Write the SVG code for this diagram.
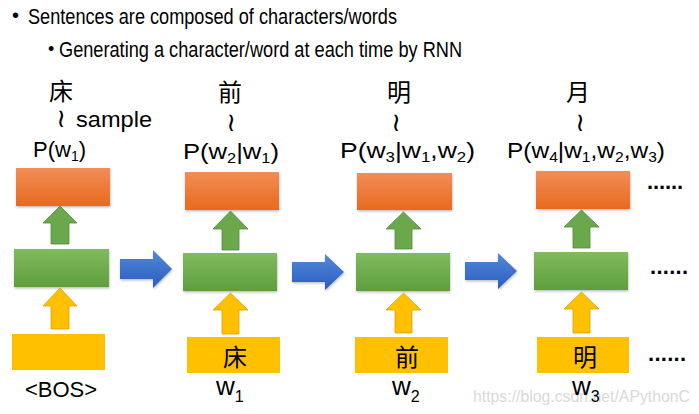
<svg xmlns="http://www.w3.org/2000/svg" width="699" height="414" viewBox="0 0 699 414">
<defs>
<linearGradient id="og" x1="0" y1="0" x2="0" y2="1"><stop offset="0" stop-color="#F28D56"/><stop offset="1" stop-color="#E86A1E"/></linearGradient>
<linearGradient id="gg" x1="0" y1="0" x2="0" y2="1"><stop offset="0" stop-color="#80BB5F"/><stop offset="1" stop-color="#5E9E3C"/></linearGradient>
<linearGradient id="bg" x1="0" y1="0" x2="0" y2="1"><stop offset="0" stop-color="#5189DA"/><stop offset="1" stop-color="#2C5CBF"/></linearGradient>
<filter id="sh" x="-10%" y="-10%" width="125%" height="135%"><feDropShadow dx="0.5" dy="1.5" stdDeviation="1" flood-color="#000" flood-opacity="0.25"/></filter>
</defs>
<style>
.t{font-family:"Liberation Sans","Open Sans",sans-serif;fill:#000}
.cjk{font-family:"Noto Sans CJK SC","Noto Sans CJK TC",sans-serif;fill:#000}
.tl{font-family:"DejaVu Sans",sans-serif;fill:#000}
.o{fill:url(#og);filter:url(#sh)}
.g{fill:url(#gg);filter:url(#sh)}
.y{fill:#FFC000}
.ga{fill:#6BA84C;stroke:#4F8A36;stroke-width:0.8}
.ya{fill:#FFC000;stroke:#D8A200;stroke-width:0.8}
.ba{fill:url(#bg);filter:url(#sh)}
.wm{font-family:"Liberation Sans",sans-serif;fill:#d9d9d9}
</style>
<rect width="699" height="414" fill="#fff"/>

<g id="title">
<text class="t" x="12" y="22" font-size="20">•</text>
<text class="t" x="28" y="24" font-size="22" textLength="369" lengthAdjust="spacingAndGlyphs">Sentences are composed of characters/words</text>
<text class="t" x="48" y="55" font-size="18">•</text>
<text class="t" x="59" y="57" font-size="22" textLength="403" lengthAdjust="spacingAndGlyphs">Generating a character/word at each time by RNN</text>
</g>

<text class="wm" x="473" y="402" font-size="16" textLength="217" lengthAdjust="spacingAndGlyphs">https://blog.csdn.net/APythonC</text>

<g id="col1">
<text class="cjk" x="61" y="100" font-size="24" text-anchor="middle">床</text>
<text class="tl" x="61" y="127" font-size="26" text-anchor="middle">≀</text>
<text class="t" x="76" y="127" font-size="22" textLength="76" lengthAdjust="spacingAndGlyphs">sample</text>
<text class="t" x="33" y="157" font-size="22">P(w<tspan font-size="14" dy="4">1</tspan><tspan dy="-4">)</tspan></text>
<rect class="o" x="16" y="168" width="94" height="38"/>
<rect class="g" x="14" y="249" width="95" height="38"/>
<rect class="y" x="12" y="334" width="93" height="36"/>
<text class="t" x="61" y="397" font-size="22" text-anchor="middle">&lt;BOS&gt;</text>
</g>

<g id="col2">
<text class="cjk" x="230" y="101" font-size="24" text-anchor="middle">前</text>
<text class="tl" x="231" y="131" font-size="26" text-anchor="middle">≀</text>
<text class="t" x="183" y="159" font-size="22" textLength="96" lengthAdjust="spacingAndGlyphs">P(w<tspan font-size="14" dy="4">2</tspan><tspan dy="-4">|w</tspan><tspan font-size="14" dy="4">1</tspan><tspan dy="-4">)</tspan></text>
<rect class="o" x="185" y="172" width="94" height="38"/>
<rect class="g" x="183" y="253" width="94" height="38"/>
<rect class="y" x="187" y="337" width="93" height="36"/>
<text class="cjk" x="235" y="366" font-size="24" text-anchor="middle">床</text>
<text class="t" x="216" y="395" font-size="26">w<tspan font-size="16" dy="7">1</tspan></text>
</g>

<g id="col3">
<text class="cjk" x="399" y="101" font-size="24" text-anchor="middle">明</text>
<text class="tl" x="396" y="131" font-size="26" text-anchor="middle">≀</text>
<text class="t" x="340" y="158" font-size="22" textLength="135" lengthAdjust="spacingAndGlyphs">P(w<tspan font-size="14" dy="4">3</tspan><tspan dy="-4">|w</tspan><tspan font-size="14" dy="4">1</tspan><tspan dy="-4">,w</tspan><tspan font-size="14" dy="4">2</tspan><tspan dy="-4">)</tspan></text>
<rect class="o" x="357" y="173" width="95" height="37"/>
<rect class="g" x="356" y="253" width="94" height="38"/>
<rect class="y" x="355" y="337" width="93" height="36"/>
<text class="cjk" x="407" y="366" font-size="24" text-anchor="middle">前</text>
<text class="t" x="392" y="395" font-size="26">w<tspan font-size="16" dy="7">2</tspan></text>
</g>

<g id="col4">
<text class="cjk" x="578" y="101" font-size="24" text-anchor="middle">月</text>
<text class="tl" x="580" y="131" font-size="26" text-anchor="middle">≀</text>
<text class="t" x="507" y="158" font-size="22" textLength="158" lengthAdjust="spacingAndGlyphs">P(w<tspan font-size="14" dy="4">4</tspan><tspan dy="-4">|w</tspan><tspan font-size="14" dy="4">1</tspan><tspan dy="-4">,w</tspan><tspan font-size="14" dy="4">2</tspan><tspan dy="-4">,w</tspan><tspan font-size="14" dy="4">3</tspan><tspan dy="-4">)</tspan></text>
<rect class="o" x="536" y="171" width="94" height="38"/>
<rect class="g" x="534" y="252" width="94" height="38"/>
<rect class="y" x="537" y="337" width="92" height="36"/>
<text class="cjk" x="585" y="366" font-size="24" text-anchor="middle">明</text>
<text class="t" x="572" y="395" font-size="26">w<tspan font-size="16" dy="7">3</tspan></text>
</g>

<g id="dots">
<text class="t" x="647" y="189" font-size="22" font-weight="bold" textLength="36" lengthAdjust="spacing">......</text>
<text class="t" x="650" y="274" font-size="22" font-weight="bold" textLength="38" lengthAdjust="spacing">......</text>
<text class="t" x="648" y="361" font-size="22" font-weight="bold" textLength="38" lengthAdjust="spacing">......</text>
</g>

<g id="connectors">
<path class="ga" d="M60,206 L77,223 L69,223 L69,244 L51,244 L51,223 L43,223 Z"/>
<path class="ya" d="M60,288 L77,306 L69,306 L69,329 L51,329 L51,306 L43,306 Z"/>
<path class="ga" d="M230.5,211 L248,229 L239,229 L239,250 L222,250 L222,229 L213,229 Z"/>
<path class="ya" d="M230.5,293 L248,310 L239,310 L239,334 L222,334 L222,310 L213,310 Z"/>
<path class="ga" d="M403.5,212 L421,229 L412,229 L412,249 L395,249 L395,229 L386,229 Z"/>
<path class="ya" d="M403.5,293 L421,310 L412,310 L412,333 L395,333 L395,310 L386,310 Z"/>
<path class="ga" d="M581.5,210 L599,227 L590,227 L590,248 L573,248 L573,227 L564,227 Z"/>
<path class="ya" d="M581.5,292 L599,309 L590,309 L590,333 L573,333 L573,309 L564,309 Z"/>
<path class="ba" d="M120,259 L153,259 L153,250 L172,269 L153,288 L153,279 L120,279 Z"/>
<path class="ba" d="M292,262 L325,262 L325,254 L344,272 L325,290 L325,282 L292,282 Z"/>
<path class="ba" d="M465,262 L498,262 L498,253 L517,271 L498,289 L498,280 L465,280 Z"/>
</g>
</svg>
